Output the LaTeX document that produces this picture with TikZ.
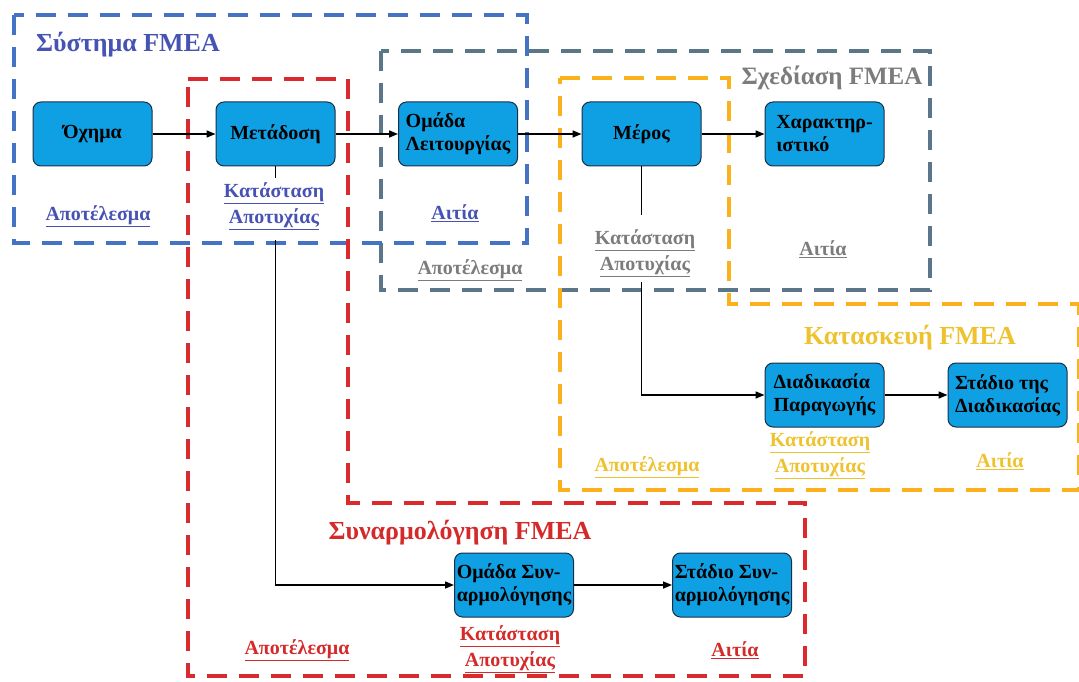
\documentclass[tikz,border=0pt]{standalone}
\usepackage{fontspec}
\setmainfont{Liberation Serif}
\usetikzlibrary{arrows.meta}

\definecolor{stagefill}{HTML}{0FA0E3}
\definecolor{stageedge}{HTML}{1C2E45}
\definecolor{sysframe}{HTML}{4472C4}
\definecolor{systext}{HTML}{4753B3}
\definecolor{desframe}{HTML}{5B7688}
\definecolor{destext}{HTML}{7C7C7C}
\definecolor{conframe}{HTML}{F9B21C}
\definecolor{context}{HTML}{EEC22E}
\definecolor{asmframe}{HTML}{DA2A2E}
\definecolor{asmtext}{HTML}{D42A2A}

\newcommand{\ulabel}[1]{\underline{#1}}

\begin{document}
\begin{tikzpicture}[x=1pt,y=-1pt,
  stage/.style={draw=stageedge, fill=stagefill, rounded corners=8pt,
    line width=1pt, minimum width=119pt, minimum height=64pt,
    align=left, inner sep=0pt,
    font=\bfseries\fontsize{20}{23}\selectfont},
  frame/.style={line width=4pt, dash pattern=on 20pt off 12pt},
  conn/.style={line width=1.6pt, -{Triangle[length=9pt,width=7pt]}},
  plain/.style={line width=1.6pt},
  title/.style={font=\bfseries\fontsize{26}{30}\selectfont},
  lbl/.style={font=\bfseries\fontsize{20}{26}\selectfont, align=center, inner sep=0pt}
]
\useasboundingbox (0,0) rectangle (1079,682);

% dashed scope frames
\draw[frame, desframe] (381,51) rectangle (930,290);
\draw[frame, sysframe] (14,15) rectangle (527,243);
\draw[frame, conframe] (560,78) -- (729,78) -- (729,304) -- (1079,304)
  -- (1079,490) -- (560,490) -- cycle;
\draw[frame, asmframe] (188,79) -- (348,79) -- (348,503) -- (805,503)
  -- (805,676) -- (188,676) -- cycle;

% frame titles
\node[title, systext] (tsys) at (128,45) {Σύστημα FMEA};
\node[title, destext, font=\bfseries\fontsize{25}{30}\selectfont] (tdes) at (832,78) {Σχεδίαση FMEA};
\node[title, context] (tcon) at (910,338) {Κατασκευή FMEA};
\node[title, asmtext] (tasm) at (460,533) {Συναρμολόγηση FMEA};

% stages
\node[stage] (ochima) at (92.5,134) {Όχημα};
\node[stage] (metadosi) at (275.5,134) {Μετάδοση};
\node[stage] (omada) at (458,134) {Ομάδα\\Λειτουργίας};
\node[stage] (meros) at (641.5,134) {Μέρος};
\node[stage] (charakt) at (824.5,134) {Χαρακτηρ-\\ιστικό};
\node[stage] (diadik) at (824.5,395) {Διαδικασία\\Παραγωγής};
\node[stage] (stadtis) at (1007.5,395) {Στάδιο της\\Διαδικασίας};
\node[stage] (omsyn) at (514,585) {Ομάδα Συν-\\αρμολόγησης};
\node[stage] (stsyn) at (732,585) {Στάδιο Συν-\\αρμολόγησης};

% labels: system FMEA
\node[lbl, systext] (sysres) at (98,216) {\ulabel{Αποτέλεσμα}};
\node[lbl, systext] (sysfail) at (274,206) {\ulabel{Κατάσταση}\\\ulabel{Αποτυχίας}};
\node[lbl, systext] (syscause) at (455,213) {\ulabel{Αιτία}};

% labels: design FMEA
\node[lbl, destext] (desres) at (470,270) {\ulabel{Αποτέλεσμα}};
\node[lbl, destext] (desfail) at (645,253) {\ulabel{Κατάσταση}\\\ulabel{Αποτυχίας}};
\node[lbl, destext] (descause) at (823,249) {\ulabel{Αιτία}};

% labels: manufacturing FMEA
\node[lbl, context] (conres) at (647,467) {\ulabel{Αποτέλεσμα}};
\node[lbl, context] (confail) at (820,455) {\ulabel{Κατάσταση}\\\ulabel{Αποτυχίας}};
\node[lbl, context] (concause) at (1000,461) {\ulabel{Αιτία}};

% labels: assembly FMEA
\node[lbl, asmtext] (asmres) at (297,650) {\ulabel{Αποτέλεσμα}};
\node[lbl, asmtext] (asmfail) at (510,649) {\ulabel{Κατάσταση}\\\ulabel{Αποτυχίας}};
\node[lbl, asmtext] (asmcause) at (735,650) {\ulabel{Αιτία}};

% connectors
\draw[conn] (ochima) -- (metadosi);
\draw[conn] (metadosi) -- (omada);
\draw[conn] (omada) -- (meros);
\draw[conn] (meros) -- (charakt);
\draw[conn] (diadik) -- (stadtis);
\draw[conn] (omsyn) -- (stsyn);

\coordinate (mtick) at (275.5,178);
\coordinate (mdrop) at (275.5,240);
\draw[plain] (metadosi.south) -- (mtick);
\draw[conn] (mdrop) |- (omsyn.west);

\coordinate (ptick) at (641.5,215);
\coordinate (pdrop) at (641.5,282);
\draw[plain] (meros.south) -- (ptick);
\draw[conn] (pdrop) |- (diadik.west);
\end{tikzpicture}
\end{document}
